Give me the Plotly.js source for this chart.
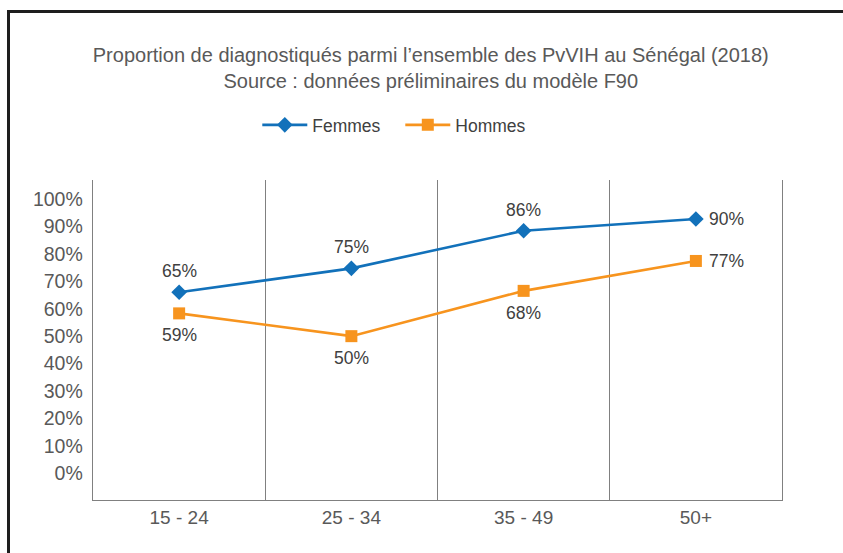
<!DOCTYPE html>
<html>
<head>
<meta charset="utf-8">
<script src="https://cdn.plot.ly/plotly-3.0.1.min.js"></script>
<style>
  html, body { margin: 0; padding: 0; background: #fff; overflow: hidden; }
  #chart { width: 843px; height: 553px; }
  #frame { position: absolute; left: 7px; top: 10px; width: 900px; height: 600px;
           border-left: 3px solid #1e1e1e; border-top: 3px solid #1e1e1e; pointer-events: none; }
</style>
</head>
<body>
<div id="chart"></div>
<div id="frame"></div>
<script>
const categories = ["15 - 24", "25 - 34", "35 - 49", "50+"];
const femmes = [66, 74.7, 88.4, 92.7];
const hommes = [58.3, 50, 66.5, 77.4];
const femmesLabels = ["65%", "75%", "86%", "90%"];
const hommesLabels = ["59%", "50%", "68%", "77%"];
const yTicks = [0, 10, 20, 30, 40, 50, 60, 70, 80, 90, 100];

const labelFont = {family: "Liberation Sans, Arial, sans-serif", size: 17.5, color: "#404040"};

const traces = [
  {
    x: categories, y: femmes, name: "Femmes", type: "scatter", mode: "lines+markers",
    line: {color: "#1271BA", width: 2.6},
    marker: {symbol: "diamond", size: 12, color: "#1271BA"},
    cliponaxis: false
  },
  {
    x: categories, y: hommes, name: "Hommes", type: "scatter", mode: "lines+markers",
    line: {color: "#F7941E", width: 2.6},
    marker: {symbol: "square", size: 12, color: "#F7941E"},
    cliponaxis: false
  }
];

// data labels: above (Femmes) / below (Hommes), last point to the right
function labelAnnotations(values, labels, above) {
  return values.map((v, i) => {
    const last = i === values.length - 1;
    return {
      x: categories[i], y: v, xref: "x", yref: "y",
      text: labels[i], showarrow: false, font: labelFont,
      xanchor: "center", yanchor: "middle",
      xshift: last ? 31 : 0,
      yshift: last ? 0 : (above ? 21 : -22)
    };
  });
}

const layout = {
  width: 843, height: 553,
  margin: {l: 93, r: 61, t: 180, b: 53},
  paper_bgcolor: "#ffffff", plot_bgcolor: "#ffffff",
  font: {family: "Liberation Sans, Arial, sans-serif", color: "#595959"},
  title: {
    text: "Proportion de diagnostiqués parmi l’ensemble des PvVIH au Sénégal (2018)<br>Source : données préliminaires du modèle F90",
    font: {size: 20, color: "#595959"},
    xref: "container", x: 0.511, xanchor: "center",
    yref: "container", y: 0.887, yanchor: "middle"
  },
  showlegend: true,
  legend: {
    orientation: "h", xref: "paper", yref: "paper",
    x: 0.446, xanchor: "center", y: 1.172, yanchor: "middle",
    font: {size: 17.5, color: "#404040"},
    itemwidth: 45,
    entrywidth: 83
  },
  annotations: labelAnnotations(femmes, femmesLabels, true)
    .concat(labelAnnotations(hommes, hommesLabels, false)),
  xaxis: {
    type: "category",
    range: [-0.5, 3.5],
    tickson: "boundaries",
    showgrid: true, gridcolor: "#808080", gridwidth: 1.3,
    showline: true, linecolor: "#808080", linewidth: 1.3,
    ticks: "", tickfont: {size: 19, color: "#595959"},
    zeroline: false, fixedrange: true
  },
  yaxis: {
    range: [-9.7, 106.9],
    tickvals: yTicks, ticktext: yTicks.map(v => v + "%"),
    showgrid: false, zeroline: false,
    showline: true, mirror: true, linecolor: "#808080", linewidth: 1.3,
    ticks: "", tickfont: {size: 19.5, color: "#595959"},
    ticklabelstandoff: 5, fixedrange: true
  }
};

Plotly.newPlot("chart", traces, layout, {displayModeBar: false, staticPlot: true});
</script>
</body>
</html>
